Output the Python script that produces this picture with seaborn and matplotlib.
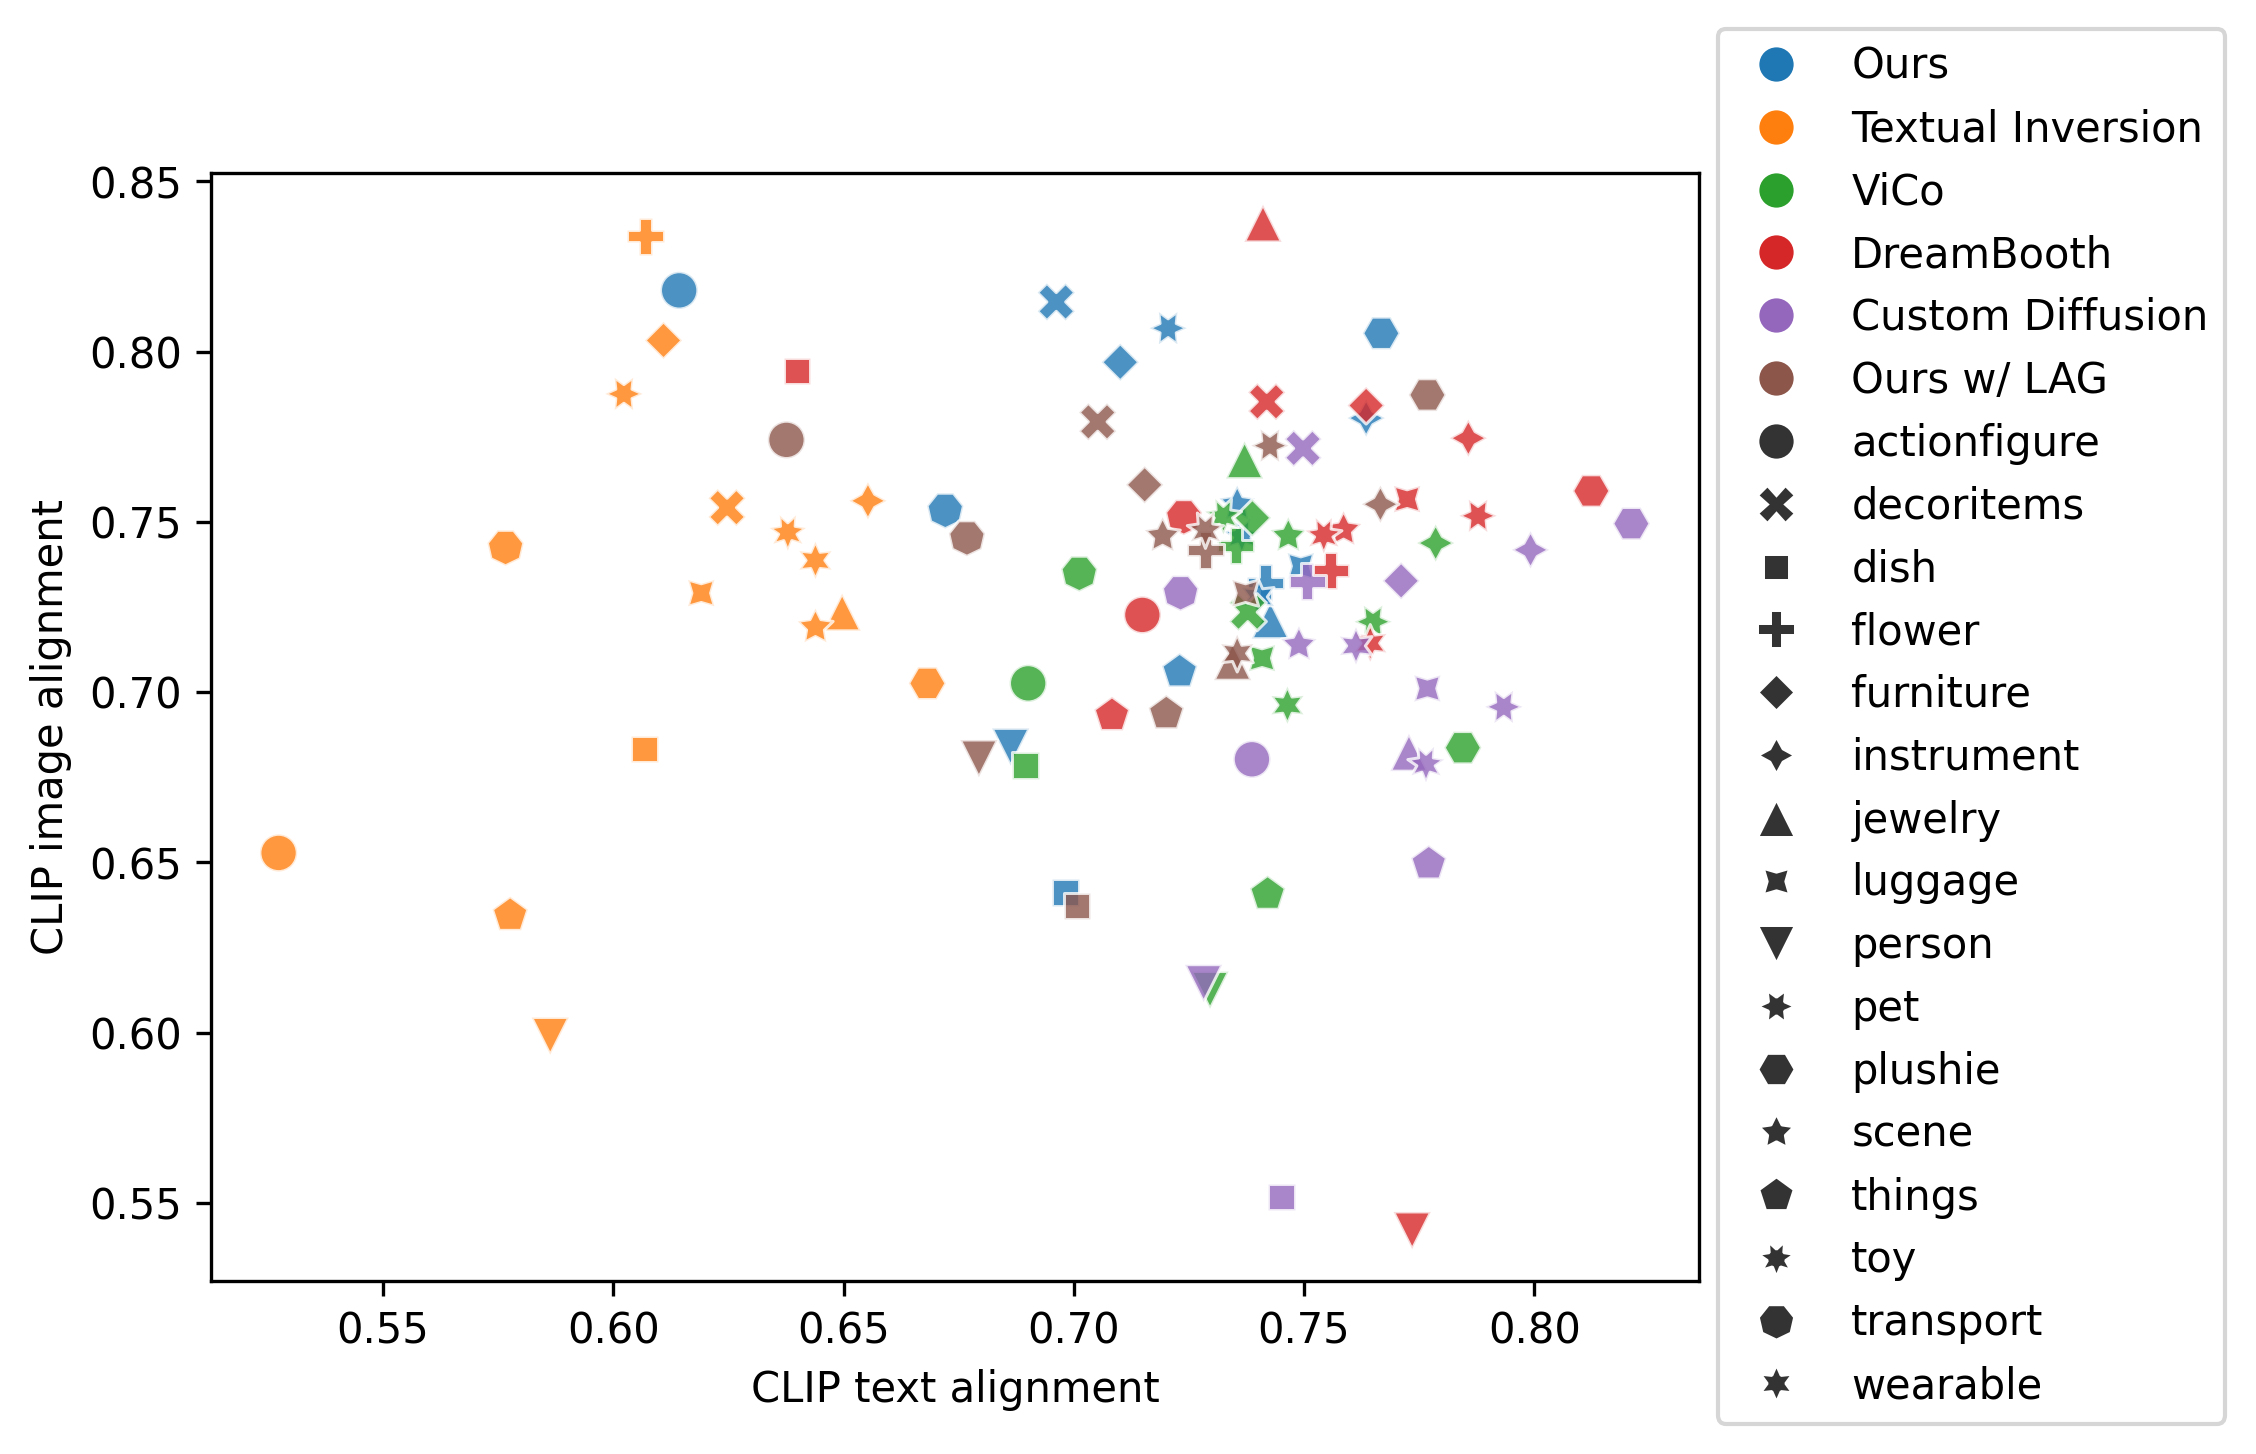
import pandas as pd
import seaborn as sns
import matplotlib.pyplot as plt

# methods (hue) and object categories (style)
methods = ['Ours', 'Textual Inversion', 'ViCo', 'DreamBooth', 'Custom Diffusion', 'Ours w/ LAG']
categories = ['actionfigure', 'decoritems', 'dish', 'flower', 'furniture', 'instrument',
              'jewelry', 'luggage', 'person', 'pet', 'plushie', 'scene', 'things', 'toy',
              'transport', 'wearable']

# CLIP text alignment, one value per category
ours_text = [0.6143, 0.6962, 0.6982, 0.7416, 0.7101, 0.7635, 0.7427, 0.7493,
             0.6863, 0.7205, 0.7668, 0.7355, 0.7230, 0.7365, 0.6721, 0.7400]
ti_text = [0.5273, 0.6247, 0.6068, 0.6070, 0.6109, 0.6553, 0.6497, 0.6191,
           0.5863, 0.6023, 0.6682, 0.6439, 0.5776, 0.6379, 0.5766, 0.6439]
vico_text = [0.6901, 0.7378, 0.6895, 0.7352, 0.7388, 0.7786, 0.7371, 0.7409,
             0.7296, 0.7650, 0.7845, 0.7466, 0.7421, 0.7325, 0.7012, 0.7464]
db_text = [0.7149, 0.7419, 0.6399, 0.7558, 0.7635, 0.7857, 0.7411, 0.7724,
           0.7735, 0.7878, 0.8124, 0.7586, 0.7083, 0.7543, 0.7239, 0.7644]
cd_text = [0.7387, 0.7498, 0.7451, 0.7507, 0.7711, 0.7992, 0.7728, 0.7768,
           0.7282, 0.7934, 0.8211, 0.7489, 0.7771, 0.7765, 0.7232, 0.7613]
lag_text = [0.6376, 0.7052, 0.7007, 0.7286, 0.7154, 0.7666, 0.7345, 0.7373,
            0.6794, 0.7426, 0.7768, 0.7193, 0.7201, 0.7286, 0.6768, 0.7355]

# CLIP image alignment, one value per category
ours_img = [0.8180, 0.8146, 0.6412, 0.7321, 0.7969, 0.7805, 0.7212, 0.7370,
            0.6839, 0.8069, 0.8054, 0.7552, 0.7060, 0.7460, 0.7535, 0.7280]
ti_img = [0.6528, 0.7542, 0.6834, 0.8339, 0.8033, 0.7562, 0.7235, 0.7291,
          0.5990, 0.7876, 0.7026, 0.7191, 0.6345, 0.7470, 0.7426, 0.7387]
vico_img = [0.7026, 0.7235, 0.6785, 0.7430, 0.7512, 0.7438, 0.7682, 0.7100,
            0.6125, 0.7207, 0.6837, 0.7459, 0.6407, 0.7518, 0.7350, 0.6962]
db_img = [0.7227, 0.7853, 0.7943, 0.7358, 0.7842, 0.7746, 0.8377, 0.7567,
          0.5419, 0.7518, 0.7591, 0.7477, 0.6932, 0.7462, 0.7516, 0.7144]
cd_img = [0.6803, 0.7716, 0.5517, 0.7325, 0.7327, 0.7418, 0.6823, 0.7011,
          0.6145, 0.6957, 0.7495, 0.7139, 0.6496, 0.6790, 0.7293, 0.7136]
lag_img = [0.7741, 0.7794, 0.6373, 0.7418, 0.7609, 0.7552, 0.7090, 0.7291,
           0.6805, 0.7724, 0.7873, 0.7459, 0.6937, 0.7477, 0.7454, 0.7114]

text_vals = [ours_text, ti_text, vico_text, db_text, cd_text, lag_text]
img_vals = [ours_img, ti_img, vico_img, db_img, cd_img, lag_img]

rows = []
for m, tx, im in zip(methods, text_vals, img_vals):
    for c, a, b in zip(categories, tx, im):
        rows.append({'method': m, 'category': c, 'text': a, 'image': b})
df = pd.DataFrame(rows)

fig, ax = plt.subplots(figsize=(7.52, 4.847), dpi=300)
fig.subplots_adjust(left=0.0935, right=0.7531, top=0.881, bottom=0.119)

sns.scatterplot(data=df, x='text', y='image', hue='method', style='category',
                s=80, alpha=0.8, ax=ax)

# legend without the group titles
handles, labels = ax.get_legend_handles_labels()
keep = [(h, l) for h, l in zip(handles, labels) if l not in ('method', 'category')]
leg = ax.legend([h for h, _ in keep], [l for _, l in keep], loc='upper left',
                bbox_to_anchor=(1.0128, 1.13), borderaxespad=0)
for h in leg.legend_handles:
    h.set_alpha(1)

ax.set_xlabel('CLIP text alignment')
ax.set_ylabel('CLIP image alignment')

fig.savefig('out.png', dpi=300)
